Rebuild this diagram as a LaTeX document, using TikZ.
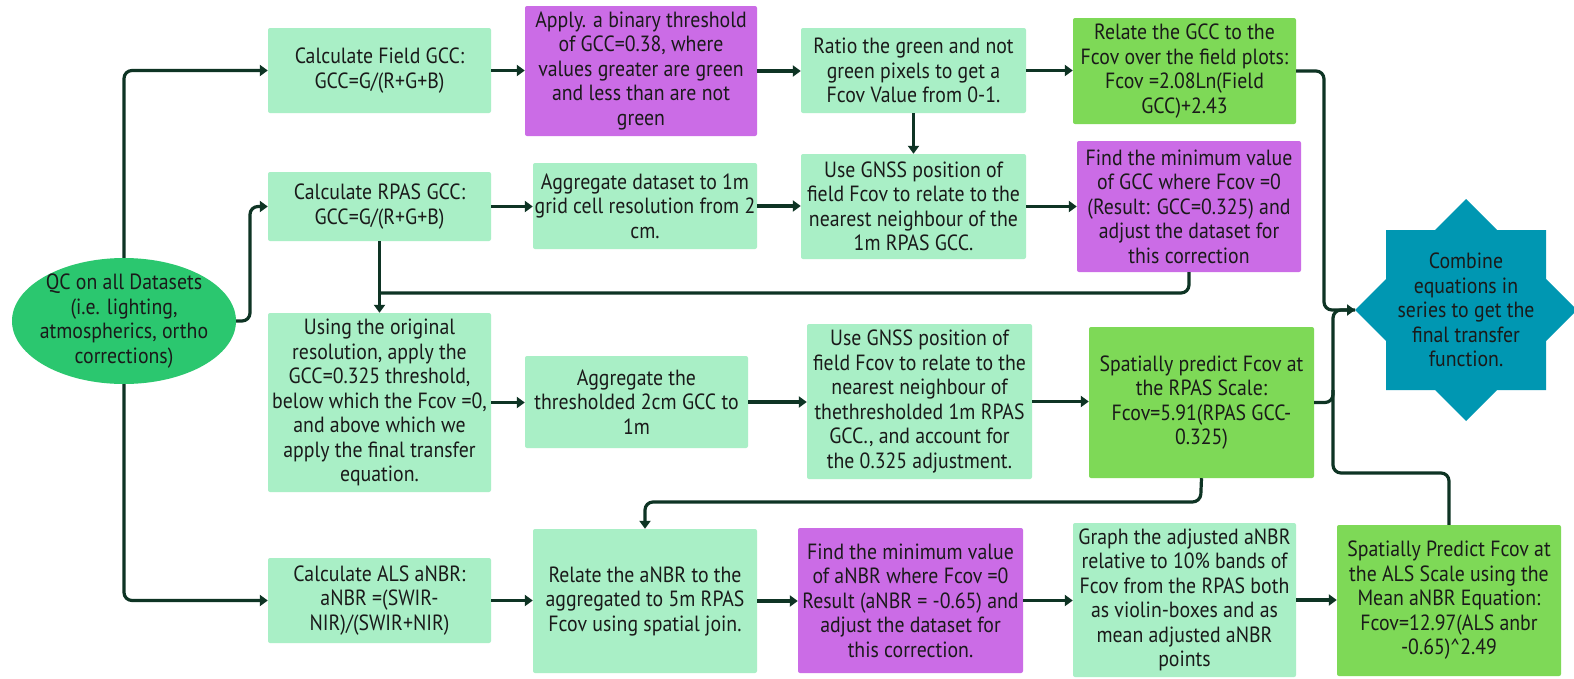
\documentclass[tikz,border=0pt]{standalone}
\usepackage{fontspec}
\setmainfont[FakeStretch=0.9]{PT Sans}
\usetikzlibrary{arrows.meta,shapes.geometric}
\definecolor{mint}{HTML}{A9EFC6}
\definecolor{purp}{HTML}{CB6CE6}
\definecolor{lime}{HTML}{7ED957}
\definecolor{qcg}{HTML}{2BC76F}
\definecolor{teal}{HTML}{0097B2}
\definecolor{arrowc}{HTML}{0E3424}
\definecolor{txt}{HTML}{1A1A1A}
\tikzset{
  box/.style={rectangle, rounded corners=2pt, align=center, inner sep=0pt, text=txt,
    font=\fontsize{22}{24.5}\selectfont},
  mintbox/.style={box, fill=mint},
  purpbox/.style={box, fill=purp},
  limebox/.style={box, fill=lime},
  conn/.style={draw=arrowc, line width=3.2pt, rounded corners=8pt},
  arr/.style={conn, -{Triangle[length=8pt,width=11pt]}},
}
\begin{document}
\begin{tikzpicture}[x=1pt,y=-1pt]
\fill[white] (0,0) rectangle (1574,678);
\useasboundingbox (0,0) rectangle (1574,678);

% star
\fill[teal] (1466,199) -- (1497,230) -- (1546,230) -- (1546,279) -- (1577,310) -- (1546,341) -- (1546,390) -- (1497,390) -- (1466,421) -- (1435,390) -- (1386,390) -- (1386,341) -- (1355,310) -- (1386,279) -- (1386,230) -- (1435,230) -- cycle;
\node[box, fill=none] (star) at (1466,310) {Combine\\equations in\\series to get the\\final transfer\\function.};
\coordinate (starW) at (1355,310);

% QC ellipse
\node[ellipse, fill=qcg, minimum width=224pt, minimum height=126pt, inner sep=-25pt, align=center, text=txt,
  font=\fontsize{22}{24.5}\selectfont] (qc) at (124,321) {QC on all Datasets\\(i.e. lighting,\\atmospherics, ortho\\corrections)};

% row 1
\node[mintbox, minimum width=223pt, minimum height=85pt] (fgcc) at (379.5,70.5) {Calculate Field GCC:\\GCC=G/(R+G+B)};
\node[purpbox, minimum width=232pt, minimum height=130pt] (thr) at (641,71) {Apply. a binary threshold\\of GCC=0.38, where\\values greater are green\\and less than are not\\green};
\node[mintbox, minimum width=225pt, minimum height=85pt] (ratio) at (913.5,70.5) {Ratio the green and not\\green pixels to get a\\Fcov Value from 0-1.};
\node[limebox, minimum width=223pt, minimum height=106pt] (relgcc) at (1184.5,71) {Relate the GCC to the\\Fcov over the field plots:\\Fcov =2.08Ln(Field\\GCC)+2.43};

% row 2
\node[mintbox, minimum width=223pt, minimum height=69pt] (rgcc) at (379.5,206.5) {Calculate RPAS GCC:\\GCC=G/(R+G+B)};
\node[mintbox, minimum width=224pt, minimum height=86pt] (agg1) at (645,206) {Aggregate dataset to 1m\\grid cell resolution from 2\\cm.};
\node[mintbox, minimum width=225pt, minimum height=105pt] (gnss1) at (913.5,206.5) {Use GNSS position of\\field Fcov to relate to the\\nearest neighbour of the\\1m RPAS GCC.};
\node[purpbox, minimum width=224pt, minimum height=131pt] (min1) at (1189,206.5) {Find the minimum value\\of GCC where Fcov =0\\(Result: GCC=0.325) and\\adjust the dataset for\\this correction};

% row 3
\node[mintbox, minimum width=223pt, minimum height=179pt] (orig) at (379.5,402.5) {Using the original\\resolution, apply the\\GCC=0.325 threshold,\\below which the Fcov =0,\\and above which we\\apply the final transfer\\equation.};
\node[mintbox, minimum width=223pt, minimum height=92pt] (agg2) at (636.5,402) {Aggregate the\\thresholded 2cm GCC to\\1m};
\node[mintbox, minimum width=225pt, minimum height=155pt] (gnss2) at (919.5,401.5) {Use GNSS position of\\field Fcov to relate to the\\nearest neighbour of\\thethresholded 1m RPAS\\GCC., and account for\\the 0.325 adjustment.};
\node[limebox, minimum width=225pt, minimum height=151pt] (sprpas) at (1201.5,402.5) {Spatially predict Fcov at\\the RPAS Scale:\\Fcov=5.91(RPAS GCC-\\0.325)};

% row 4
\node[mintbox, minimum width=223pt, minimum height=85pt] (als) at (379.5,600.5) {Calculate ALS aNBR:\\aNBR =(SWIR-\\NIR)/(SWIR+NIR)};
\node[mintbox, minimum width=224pt, minimum height=144pt] (relanbr) at (645,601) {Relate the aNBR to the\\aggregated to 5m RPAS\\Fcov using spatial join.};
\node[purpbox, minimum width=225pt, minimum height=145pt] (min2) at (910.5,600.5) {Find the minimum value\\of aNBR where Fcov =0\\Result (aNBR = -0.65) and\\adjust the dataset for\\this correction.};
\node[mintbox, minimum width=223pt, minimum height=154pt] (graph) at (1184.5,600) {Graph the adjusted aNBR\\relative to 10\% bands of\\Fcov from the RPAS both\\as violin-boxes and as\\mean adjusted aNBR\\points};
\node[limebox, minimum width=224pt, minimum height=151pt] (alsfin) at (1449,600.5) {Spatially Predict Fcov at\\the ALS Scale using the\\Mean aNBR Equation:\\Fcov=12.97(ALS anbr\\-0.65)\textasciicircum 2.49};

% connectors from QC
\draw[arr] (qc.north) |- (fgcc.west);
\draw[arr] (qc.east) -- (250,321) |- (rgcc.west);
\draw[arr] (qc.south) |- (als.west);

% row arrows
\draw[arr] (fgcc.east) -- (thr.west |- fgcc.east);
\draw[arr] (thr.east) -- (ratio.west |- thr.east);
\draw[arr] (ratio.east) -- (relgcc.west |- ratio.east);
\draw[arr] (ratio.south) -- (gnss1.north);
\draw[arr] (rgcc.east) -- (agg1.west |- rgcc.east);
\draw[arr] (agg1.east) -- (gnss1.west |- agg1.east);
\draw[arr] (gnss1.east) -- (min1.west |- gnss1.east);
\draw[arr] (rgcc.south) -- (orig.north);
\coordinate (j1) at (379.5,293);
\draw[conn] (min1.south) |- (j1);
\draw[arr] (orig.east) -- (agg2.west |- orig.east);
\draw[arr] (agg2.east) -- (gnss2.west |- agg2.east);
\draw[arr] (gnss2.east) -- (sprpas.west |- gnss2.east);
\draw[arr] (sprpas.south) -- (1200.5,502) -| (relanbr.north);
\draw[arr] (als.east) -- (relanbr.west |- als.east);
\draw[arr] (relanbr.east) -- (min2.west |- relanbr.east);
\draw[arr] (min2.east) -- (graph.west |- min2.east);
\draw[arr] (graph.east) -- (alsfin.west |- graph.east);

% into star
\draw[arr] (relgcc.east) -| (1324,310) -- (starW);
\draw[conn] (alsfin.north) |- (1333,473) -- (1333,310) -- (starW);
\draw[conn] (sprpas.east) -| (1333,390);
\end{tikzpicture}
\end{document}
